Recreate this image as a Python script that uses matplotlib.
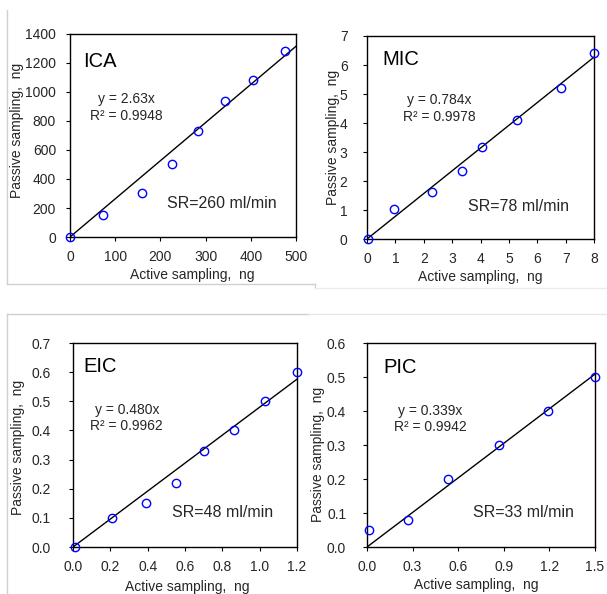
import matplotlib
matplotlib.use("Agg")
import matplotlib.pyplot as plt
from matplotlib.lines import Line2D
from matplotlib.ticker import FormatStrFormatter
import numpy as np

plt.rcParams['font.family'] = ['Liberation Sans', 'DejaVu Sans']

# data
names = ["ICA", "MIC", "EIC", "PIC"]
ica_x = [0, 73, 160, 225, 283, 343, 405, 475]
ica_y = [0, 155, 305, 505, 730, 940, 1080, 1285]
mic_x = [0.05, 0.95, 2.3, 3.35, 4.05, 5.3, 6.85, 8.0]
mic_y = [0.0, 1.02, 1.62, 2.35, 3.18, 4.1, 5.2, 6.4]
eic_x = [0.01, 0.21, 0.39, 0.55, 0.70, 0.86, 1.03, 1.2]
eic_y = [0.0, 0.10, 0.15, 0.22, 0.33, 0.40, 0.50, 0.60]
pic_x = [0.01, 0.27, 0.53, 0.87, 1.19, 1.5]
pic_y = [0.05, 0.08, 0.20, 0.30, 0.40, 0.50]
slopes = [2.63, 0.784, 0.480, 0.339]
r2 = ["0.9948", "0.9978", "0.9962", "0.9942"]
slope_txt = ["2.63", "0.784", "0.480", "0.339"]
sr = [260, 78, 48, 33]
xmax = [500, 8, 1.2, 1.5]
ymax = [1400, 7, 0.7, 0.6]
xstep = [100, 1, 0.2, 0.3]
ystep = [200, 1, 0.1, 0.1]
fmt = ["%d", "%d", "%.1f", "%.1f"]
yfmt = ["%d", "%d", "%.1f", "%.1f"]

xs = [ica_x, mic_x, eic_x, pic_x]
ys = [ica_y, mic_y, eic_y, pic_y]

# layout
axes_rect = [
    [0.1153, 0.601, 0.3723, 0.3418],
    [0.6046, 0.5976, 0.374, 0.3418],
    [0.1203, 0.0791, 0.369, 0.3434],
    [0.6046, 0.0791, 0.3756, 0.3434],
]
title_pos = [(0.058, 0.839), (0.066, 0.857), (0.045, 0.859), (0.07, 0.853)]
eq_pos = [(0.25, 0.638), (0.32, 0.643), (0.24, 0.632), (0.276, 0.627)]
sr_pos = [(0.43, 0.167), (0.445, 0.158), (0.44, 0.17), (0.465, 0.17)]
ypad = [7, 11, 13, 12]
ylab_pos = [(-0.204, 0.527), (-0.119, 0.5), (-0.214, 0.49), (-0.184, 0.456)]
xlab_pos = [(0.54, -0.153), (0.498, -0.153), (0.509, -0.162), (0.478, -0.152)]

fig = plt.figure(figsize=(6.07, 5.94), dpi=100)

# light chart-area frames
W, H = 607.0, 594.0
def fl(x0, y0, x1, y1, c):
    fig.add_artist(Line2D([x0 / W, x1 / W], [1 - y0 / H, 1 - y1 / H],
                          color=c, lw=1.0, transform=fig.transFigure))
fl(7, 10, 7, 284, "#d0d0d0")
fl(7, 284, 315, 284, "#d0d0d0")
fl(315, 284, 315, 288, "#d0d0d0")
fl(315, 288, 607, 288, "#ececec")
fl(7, 314, 7, 594, "#d0d0d0")
fl(7, 314, 308, 314, "#d0d0d0")
fl(308, 314, 607, 314, "#e6e6e6")

tc = "#262626"
fs = 10
for i in range(4):
    ax = fig.add_axes(axes_rect[i])
    x = np.array(xs[i])
    y = np.array(ys[i])
    xl = np.array([0, xmax[i]])
    ax.plot(xl, slopes[i] * xl, color="black", lw=1.0, zorder=2)
    ax.plot(x, y, linestyle="none", marker="o", markersize=6,
            markerfacecolor="none", markeredgecolor="#0000ff",
            markeredgewidth=1.0, clip_on=False, zorder=3)
    ax.set_xlim(0, xmax[i])
    ax.set_ylim(0, ymax[i])
    ax.set_xticks(np.arange(0, xmax[i] + xstep[i] / 2, xstep[i]))
    ax.set_yticks(np.arange(0, ymax[i] + ystep[i] / 2, ystep[i]))
    ax.xaxis.set_major_formatter(FormatStrFormatter(fmt[i]))
    ax.yaxis.set_major_formatter(FormatStrFormatter(yfmt[i]))
    ax.tick_params(direction="out", length=3, width=0.8, labelsize=fs,
                   colors="black", labelcolor=tc)
    ax.tick_params(axis="x", pad=6)
    ax.tick_params(axis="y", pad=ypad[i])
    for s in ax.spines.values():
        s.set_linewidth(1.0)
        s.set_color("black")
    ax.set_xlabel("Active sampling,  ng", fontsize=fs, color=tc)
    ax.set_ylabel("Passive sampling,  ng", fontsize=fs, color=tc)
    ax.xaxis.set_label_coords(*xlab_pos[i])
    ax.yaxis.set_label_coords(*ylab_pos[i])
    ax.text(title_pos[i][0], title_pos[i][1], names[i], transform=ax.transAxes,
            fontsize=14.5, va="baseline", ha="left", color="black")
    ax.text(eq_pos[i][0], eq_pos[i][1],
            "y = %sx\nR² = %s" % (slope_txt[i], r2[i]),
            transform=ax.transAxes, fontsize=fs, va="center", ha="center",
            color=tc, linespacing=1.2)
    ax.text(sr_pos[i][0], sr_pos[i][1], "SR=%d ml/min" % sr[i],
            transform=ax.transAxes, fontsize=11.5, va="center", ha="left",
            color=tc)

fig.savefig("out.png", dpi=100)
